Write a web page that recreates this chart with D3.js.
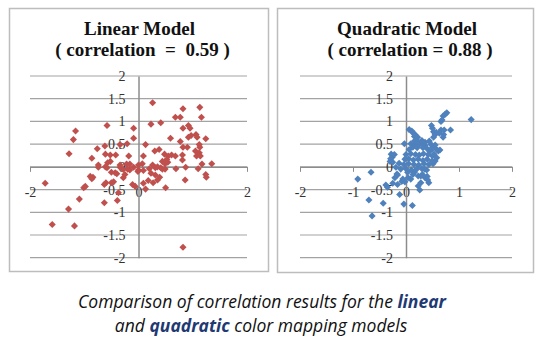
<!DOCTYPE html>
<html>
<head>
<meta charset="utf-8">
<script src="https://cdn.jsdelivr.net/npm/d3@7"></script>
<style>
  body { margin: 0; background: #fff; }
  svg { display: block; }
  .serif { font-family: "Liberation Serif", "Tinos", "DejaVu Serif", serif; }
</style>
</head>
<body>
<div id="chart"></div>
<script>
// linear model: predicted vs measured
const linearX = [-1.16, -1.20, -1.28, -0.58, -0.76, -0.86, -0.74, -0.57, -0.52, -0.61, -0.52, -0.42, -0.34, -0.21, -0.09, -0.09,
  -0.18, -0.34, -0.22, -0.16, -0.61, -0.62, 0.26, 0.82, 1.13, 0.68, 0.77, 1.16, 0.23, 0.41, 0.92, 0.82, 0.95, 0.97, 1.06, 1.08,
  0.92, 1.24, 0.59, 0.77, 0.13, 1.12, 1.13, 0.82, 0.90, 0.30, 0.38, 1.05, 1.12, 1.07, 1.14, 0.09, 0.48, 0.55, 0.52, 0.61, 0.68,
  0.81, 0.81, 1.17, 1.35, 0.44, 0.49, 0.54, 0.26, 0.07, 0.00, 0.35, 0.69, 0.87, 1.10, 0.00, 0.09, 0.20, 0.31, 0.41, 0.44, 0.49,
  1.24, 1.25, 0.86, 0.23, 0.31, 0.39, 0.35, 0.27, 0.18, 0.09, 0.13, 0.50, 0.82, -1.72, -1.01, -0.98, -1.09, -1.29, -1.59, -1.18,
  -0.89, -0.84, -0.86, -0.74, -0.58, -0.43, -0.60, -0.63, -0.50, -0.46, -0.28, -0.25, -0.16, -0.09, -0.20, -0.11, -0.06, -0.37,
  -0.39, -0.63, -0.01, -0.40, -0.34, -0.28, -0.50];
const linearY = [0.79, 0.60, 0.29, 0.91, 0.40, 0.19, 0.04, 0.09, 0.12, 0.28, 0.26, 0.26, 0.49, 0.51, 0.63, 0.85,
  0.24, 0.04, 0.06, 0.06, 0.00, 0.46, 1.41, 1.28, 1.31, 1.09, 1.09, 1.09, 0.94, 0.97, 0.91, 0.85, 0.85, 0.69, 0.71, 0.65,
  0.65, 0.62, 0.63, 0.56, 0.49, 0.49, 0.43, 0.43, 0.43, 0.35, 0.38, 0.35, 0.31, 0.24, 0.24, 0.24, 0.28, 0.24, 0.16, 0.26, 0.24,
  0.26, 0.15, 0.06, 0.07, 0.12, 0.07, 0.10, 0.04, 0.07, 0.04, 0.00, -0.04, -0.01, -0.04, -0.07, -0.08, -0.04, -0.02, -0.02, -0.05, -0.05,
  -0.17, -0.23, -0.29, -0.14, -0.18, -0.23, -0.29, -0.35, -0.30, -0.36, -0.49, -0.46, -1.77, -0.36, -0.46, -0.43, -0.71, -0.93, -1.27, -1.30,
  -0.21, -0.23, -0.26, -0.01, -0.02, -0.13, -0.35, -0.39, -0.35, -0.33, -0.24, -0.17, -0.07, -0.01, -0.05, -0.39, -0.43, -0.57,
  -0.74, -0.79, -0.10, -0.15, -0.01, -0.06, -0.12];

// quadratic model: predicted vs measured
const quadX = [1.23, 0.77, 0.74, 0.70, 0.68, 0.66, 0.48, 0.06, 0.11, 0.13, 0.17, 0.19, 0.22, 0.52, 0.55, 0.52, 0.66, 0.72, 0.84,
  0.71, 0.70, -0.03, 0.09, 0.16, 0.26, 0.32, 0.36, 0.47, 0.50, 0.45, 0.53, 0.61, -0.28, -0.26, -0.66, -0.91, -0.38, -0.35, -0.25,
  -0.16, -0.08, -0.06, -0.70, -0.43, -0.12, -0.04, 0.12, -0.64, 0.26, 0.23, 0.28, 0.03, 0.16, 0.28, 0.35, 0.09, -0.22, -0.30,
  -0.21, -0.17, 0.43, 0.41, 0.36, 0.64, 0.51, 0.55, 0.50, 0.57, 0.63, 0.16, 0.16, 0.23, 0.30, 0.36, 0.44, 0.55, 0.58, 0.06, 0.13,
  0.21, 0.32, 0.40, 0.49, 0.00, 0.09, 0.18, 0.25, 0.33, 0.42, 0.50, 0.58, -0.02, 0.05, 0.14, 0.23, 0.32, 0.40, 0.49, -0.13, -0.04,
  0.05, 0.15, 0.24, 0.34, 0.43, -0.19, -0.10, 0.00, 0.10, 0.20, 0.30, 0.39, -0.16, 0.13, 0.23, 0.31, 0.40, -0.25, -0.29, 0.04, -0.02];
const quadY = [1.04, 1.19, 1.16, 1.12, 1.03, 1.00, 0.91, 0.82, 0.79, 0.75, 0.71, 0.66, 0.65, 0.77, 0.71, 0.65, 0.81, 0.81, 0.81,
  0.71, 0.65, 0.51, 0.51, 0.49, 0.50, 0.51, 0.47, 0.50, 0.43, 0.35, 0.28, 0.35, 0.28, 0.21, -0.12, -0.27, -0.40, -0.45, -0.36,
  -0.39, -0.32, -0.27, -0.73, -0.80, -0.61, -0.82, -0.85, -1.08, -0.51, -0.42, -0.35, -0.12, -0.12, -0.20, -0.05, -0.27, 0.27, 0.12,
  -0.24, -0.16, -0.35, -0.29, -0.24, 0.37, 0.07, 0.13, 0.85, 0.76, 0.74, 0.67, 0.57, 0.55, 0.58, 0.54, 0.57, 0.48, 0.38, 0.38, 0.43,
  0.42, 0.42, 0.40, 0.39, 0.27, 0.29, 0.27, 0.26, 0.29, 0.27, 0.24, 0.20, 0.17, 0.18, 0.15, 0.17, 0.14, 0.17, 0.13, 0.08, 0.05,
  0.07, 0.05, 0.04, 0.07, 0.05, -0.01, -0.05, -0.04, -0.07, -0.05, -0.04, -0.07, -0.18, -0.17, -0.20, -0.17, -0.21, 0.10, 0.18, -0.24, -0.33];

const panels = [
  { title: "Linear Model", sub: "( correlation  =  0.59 )", xs: linearX, ys: linearY, color: "#c0504d",
    xTicks: [-2, 0, 2], box: [9.5, 8.5, 259, 263], xRange: [30, 247] },
  { title: "Quadratic Model", sub: "( correlation = 0.88 )", xs: quadX, ys: quadY, color: "#4f81bd",
    xTicks: [-2, -1, 0, 1, 2], box: [277.5, 8.5, 256, 264], xRange: [300, 512] }
];
const yTicks = [-2, -1.5, -1, -0.5, 0, 0.5, 1, 1.5, 2];

const W = 540, H = 344;
const svg = d3.select("#chart").append("svg")
  .attr("width", W)
  .attr("height", H);

const y = d3.scaleLinear().domain([-2, 2]).range([257.7, 76]);
const diamond = d3.symbol(d3.symbolSquare, 25);

panels.forEach(p => {
  const x = d3.scaleLinear().domain([-2, 2]).range(p.xRange);
  const g = svg.append("g");

  g.append("rect")
    .attr("x", p.box[0]).attr("y", p.box[1])
    .attr("width", p.box[2]).attr("height", p.box[3])
    .attr("fill", "#fff")
    .attr("stroke", "#bdbdbd")
    .attr("stroke-width", 1.5);

  g.append("text")
    .attr("class", "serif")
    .attr("x", x(0) + 1).attr("y", 35)
    .attr("text-anchor", "middle")
    .attr("font-weight", "bold")
    .attr("font-size", 19)
    .attr("fill", "#111")
    .text(p.title);

  g.append("text")
    .attr("class", "serif")
    .attr("x", x(0) + 4).attr("y", 56)
    .attr("text-anchor", "middle")
    .attr("font-weight", "bold")
    .attr("font-size", 19)
    .attr("xml:space", "preserve")
    .style("white-space", "pre")
    .attr("fill", "#111")
    .text(p.sub);

  // horizontal gridlines
  g.append("g")
    .selectAll("line")
    .data(yTicks)
    .join("line")
    .attr("x1", p.xRange[0]).attr("x2", p.xRange[1])
    .attr("y1", d => y(d)).attr("y2", d => y(d))
    .attr("stroke", "#a3a3a3")
    .attr("stroke-width", 1.2);

  // x axis through y = 0
  g.append("g")
    .attr("transform", `translate(0,${y(0)})`)
    .call(d3.axisBottom(x).tickValues(p.xTicks).tickSize(5).tickSizeOuter(0).tickPadding(15).tickFormat(d => String(d)))
    .attr("font-family", null)
    .attr("font-size", null)
    .call(a => a.select(".domain").attr("stroke", "#8c8c8c").attr("stroke-width", 1.2))
    .call(a => a.selectAll(".tick line").attr("stroke", "#8c8c8c"))
    .call(a => a.selectAll("text")
      .attr("class", "serif")
      .attr("font-size", 14)
      .attr("fill", "#333"));

  // y axis through x = 0
  g.append("g")
    .attr("transform", `translate(${x(0)},0)`)
    .call(d3.axisLeft(y).tickValues(yTicks).tickSize(0).tickSizeOuter(0).tickPadding(13).tickFormat(d => String(d)))
    .attr("font-family", null)
    .attr("font-size", null)
    .call(a => a.select(".domain").attr("stroke", "#8c8c8c").attr("stroke-width", 1.5))
    .call(a => a.selectAll("text")
      .attr("class", "serif")
      .attr("font-size", 14)
      .attr("fill", "#333"));

  g.append("g")
    .selectAll("path")
    .data(p.xs.map((v, i) => [v, p.ys[i]]))
    .join("path")
    .attr("d", diamond)
    .attr("transform", d => `translate(${x(d[0])},${y(d[1])}) rotate(45)`)
    .attr("fill", p.color);
});

// caption
const cap = svg.append("text")
  .attr("text-anchor", "middle")
  .attr("font-family", "'Open Sans', Lato, sans-serif")
  .attr("font-style", "italic")
  .attr("font-size", 17.5)
  .attr("fill", "#111");

const line1 = cap.append("tspan").attr("x", 262).attr("y", 308);
line1.append("tspan").text("Comparison of correlation results for the ");
line1.append("tspan").attr("font-weight", "bold").attr("fill", "#1f3a73").text("linear");

const line2 = cap.append("tspan").attr("x", 261).attr("y", 332);
line2.append("tspan").text("and ");
line2.append("tspan").attr("font-weight", "bold").attr("fill", "#1f3a73").text("quadratic");
line2.append("tspan").text(" color mapping models");
</script>
</body>
</html>
